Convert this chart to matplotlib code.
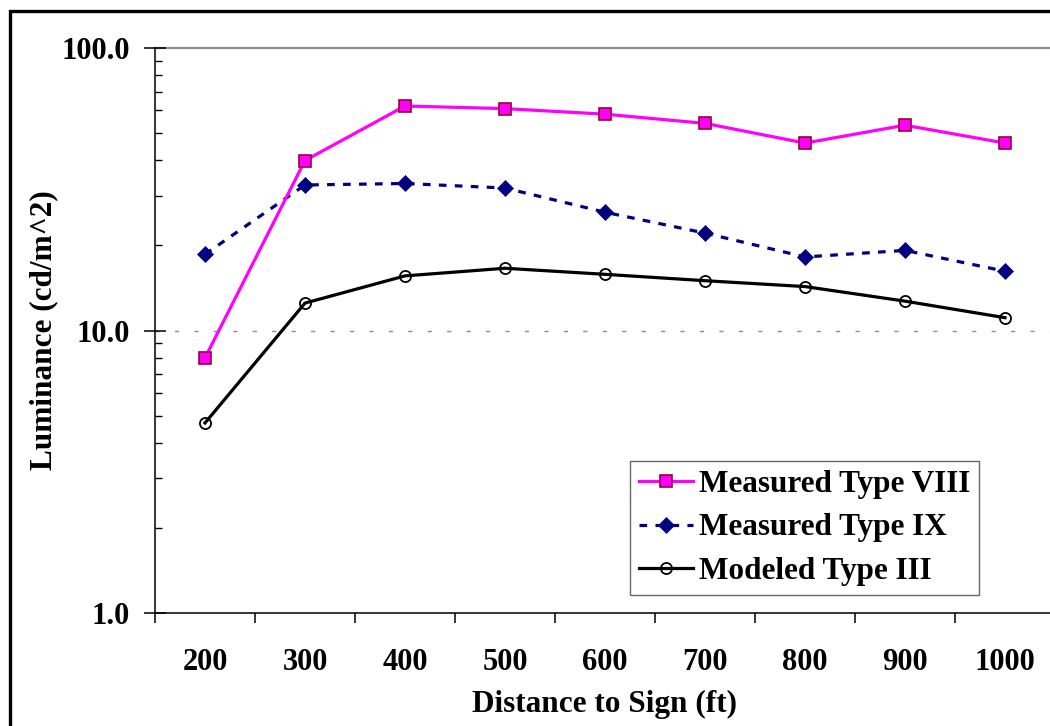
import matplotlib
matplotlib.use("Agg")
import matplotlib.pyplot as plt
from matplotlib.patches import Rectangle
from matplotlib.ticker import FixedLocator, NullFormatter

plt.rcParams['font.family'] = ['Liberation Serif', 'DejaVu Serif']
plt.rcParams['font.weight'] = 'bold'

distances = ["200", "300", "400", "500", "600", "700", "800", "900", "1000"]
measured_viii = [8.0, 39.9, 62.2, 60.9, 58.2, 54.0, 46.0, 53.2, 46.0]
measured_ix = [18.6, 32.7, 33.1, 31.9, 26.2, 22.1, 18.2, 19.2, 16.2]
modeled_iii = [4.71, 12.5, 15.6, 16.6, 15.8, 15.0, 14.3, 12.7, 11.1]
y_ticks = [1, 10, 100]
y_tick_labels = ["1.0", "10.0", "100.0"]

W, H = 1050, 726
fig = plt.figure(figsize=(W / 100, H / 100), dpi=100)

# plot area in pixel coordinates (right edge runs past the figure)
left, right, top, bottom = 155, 1055, 47.7, 613.3
ax = fig.add_axes([left / W, 1 - bottom / H, (right - left) / W, (bottom - top) / H])

x = list(range(len(distances)))

ax.plot(x, measured_viii, color='#FF00FF', lw=2.3, marker='s', ms=8.2,
        mfc='#FF00FF', mec='#990033', mew=1.2, label='Measured Type VIII', zorder=5)
ax.plot(x, measured_ix, color='#000080', lw=2.3, ls=(0, (2.4, 2.6)), marker='D', ms=8.5,
        mfc='#000080', mec='#000080', mew=0.5, label='Measured Type IX', zorder=4)
ax.plot(x, modeled_iii, color='black', lw=2.3, marker='o', ms=8.0,
        mfc='none', mec='black', mew=1.3, label='Modeled Type III', zorder=3)

ax.set_yscale('log')
ax.set_ylim(1, 100)
ax.set_xlim(-0.5, len(distances) - 0.5)

# horizontal guides
ax.axhline(100, color='#8c8c8c', lw=1.6, zorder=1, clip_on=False)
ax.axhline(10, color='#8c8c8c', lw=1.0, ls=(0, (3, 11)), zorder=1)

# y axis ticks
ax.yaxis.set_major_locator(FixedLocator(y_ticks))
ax.set_yticklabels(y_tick_labels)
ax.yaxis.set_minor_locator(FixedLocator([v * d for d in (1, 10) for v in range(2, 10)]))
ax.yaxis.set_minor_formatter(NullFormatter())
ax.tick_params(axis='y', which='major', direction='inout', length=16, width=1.1,
               pad=10, labelsize=22)
ax.tick_params(axis='y', which='minor', direction='in', length=5, width=1.0)

# x axis: labels centered in categories, ticks on category boundaries
ax.set_xticks(x)
ax.set_xticklabels(distances)
ax.set_xticks([i - 0.5 for i in range(len(distances) + 1)], minor=True)
ax.tick_params(axis='x', which='major', length=0, pad=25, labelsize=22)
ax.tick_params(axis='x', which='minor', direction='out', length=7.5, width=1.1)

for lab in ax.get_xticklabels() + ax.get_yticklabels():
    lab.set_fontweight('bold')

ax.spines['top'].set_visible(False)
ax.spines['right'].set_visible(False)
ax.spines['left'].set_linewidth(1.1)
ax.spines['bottom'].set_linewidth(1.1)

ax.set_xlabel('Distance to Sign (ft)', fontsize=22.5, fontweight='bold', labelpad=9)
ax.set_ylabel('Luminance (cd/m^2)', fontsize=22.5, fontweight='bold', labelpad=2.5)

leg = ax.legend(loc='upper left', bbox_to_anchor=(630 / W, 1 - 461 / H),
                bbox_transform=fig.transFigure, fontsize=22.5, frameon=True,
                fancybox=False, borderpad=0.3, handlelength=1.7, handletextpad=0.2,
                labelspacing=0.45, borderaxespad=0)
leg.get_frame().set_edgecolor('#404040')
leg.get_frame().set_linewidth(1.0)
for t in leg.get_texts():
    t.set_fontweight('bold')

# outer chart border
fig.patches.append(Rectangle((9.5 / W, -0.1), 1.2, 1 - 11 / H + 0.1,
                             transform=fig.transFigure, fill=False,
                             edgecolor='black', lw=2.4))

fig.savefig('out.png', dpi=100)
